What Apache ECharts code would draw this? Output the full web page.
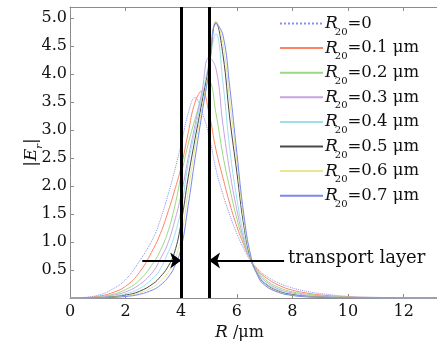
<!DOCTYPE html>
<html><head><meta charset="utf-8">
<script src="https://cdn.jsdelivr.net/npm/echarts@6/dist/echarts.min.js"></script>
<style>html,body{margin:0;padding:0;background:#fff}#c{width:437px;height:341px}</style>
</head><body><div id="c"></div>
<script>
// ---- data ----
const xs = [0, 0.5, 1, 1.5, 2, 2.5, 3, 3.25, 3.5, 3.75, 4, 4.25, 4.5, 4.75, 5, 5.25, 5.5, 5.75, 6, 6.25, 6.5, 6.75, 7, 7.5, 8, 8.5, 9, 10, 11, 12, 13.2];
const seriesNames = ['0', '0.1 μm', '0.2 μm', '0.3 μm', '0.4 μm', '0.5 μm', '0.6 μm', '0.7 μm'];
const r0  = [0, 0.01, 0.05, 0.15, 0.33, 0.66, 1.08, 1.4, 1.8, 2.25, 2.75, 3.3, 3.58, 3.32, 2.9, 2.3, 1.85, 1.48, 1.15, 0.88, 0.66, 0.52, 0.41, 0.27, 0.18, 0.12, 0.08, 0.03, 0.012, 0.005, 0];
const r01 = [0, 0.006, 0.03, 0.09, 0.21, 0.46, 0.88, 1.15, 1.5, 1.9, 2.35, 2.95, 3.5, 3.7, 3.3, 2.65, 2.15, 1.68, 1.28, 0.95, 0.68, 0.5, 0.38, 0.23, 0.14, 0.09, 0.055, 0.02, 0.008, 0.002, 0];
const r02 = [0, 0.004, 0.02, 0.06, 0.15, 0.32, 0.63, 0.85, 1.15, 1.6, 2.2, 2.75, 3.2, 3.6, 3.87, 3.3, 2.55, 1.95, 1.42, 1.0, 0.68, 0.48, 0.34, 0.19, 0.11, 0.07, 0.04, 0.015, 0.005, 0.001, 0];
const r03 = [0, 0.002, 0.013, 0.045, 0.11, 0.24, 0.48, 0.7, 0.95, 1.35, 1.85, 2.5, 3.1, 3.7, 4.3, 4.1, 3.1, 2.25, 1.58, 1.05, 0.68, 0.45, 0.31, 0.16, 0.09, 0.05, 0.03, 0.01, 0.003, 0, 0];
const r04 = [0, 0.001, 0.008, 0.03, 0.075, 0.17, 0.36, 0.52, 0.78, 1.1, 1.6, 2.4, 3.0, 3.6, 4.2, 4.72, 3.85, 2.65, 1.78, 1.12, 0.68, 0.43, 0.28, 0.14, 0.07, 0.04, 0.02, 0.008, 0.002, 0, 0];
const r05 = [0, 0.001, 0.005, 0.02, 0.05, 0.12, 0.26, 0.38, 0.54, 0.8, 1.35, 2.15, 2.85, 3.5, 4.15, 4.92, 4.35, 3.2, 2.25, 1.3, 0.7, 0.42, 0.26, 0.12, 0.06, 0.03, 0.015, 0.005, 0.001, 0, 0];
const r06 = [0, 0, 0.003, 0.013, 0.037, 0.09, 0.2, 0.3, 0.44, 0.65, 1.1, 1.9, 2.7, 3.4, 4.1, 4.95, 4.55, 3.5, 2.45, 1.4, 0.72, 0.41, 0.25, 0.11, 0.05, 0.025, 0.012, 0.004, 0.001, 0, 0];
const r07 = [0, 0, 0.002, 0.009, 0.027, 0.065, 0.15, 0.23, 0.35, 0.55, 0.9, 1.65, 2.5, 3.3, 4.05, 4.9, 4.7, 3.75, 2.6, 1.5, 0.76, 0.4, 0.23, 0.1, 0.045, 0.02, 0.01, 0.003, 0.001, 0, 0];
const allY = [r0, r01, r02, r03, r04, r05, r06, r07];
const layerLines = [4, 5];
const arrowY = 0.67;
const leftArrow = [2.6, 4];
const rightArrow = [7.7, 5];
const annotation = {text: 'transport layer', x: 7.7, y: 0.7};
const xTicks = [0, 2, 4, 6, 8, 10, 12];
const yTicks = [0.5, 1.0, 1.5, 2.0, 2.5, 3.0, 3.5, 4.0, 4.5, 5.0];

// ---- style ----
const colors = ['#8a90ea', '#ff8466', '#98d880', '#c8a2e4', '#9edfec', '#4a4a4a', '#ebe694', '#7888f0'];
const SERIF = 'DejaVu Serif';
const axisGray = '#8c8c8c';

const series = allY.map((ys, i) => ({
  name: seriesNames[i],
  type: 'line',
  data: xs.map((x, k) => [x, ys[k]]),
  symbol: 'none',
  smooth: 0.45,
  lineStyle: {width: 1, color: colors[i], type: i === 0 ? 'dotted' : 'solid'},
  itemStyle: {color: colors[i]},
  z: 2
}));

series.push({
  type: 'line', data: [], silent: true, z: 5,
  markLine: {
    silent: true, animation: false,
    symbol: ['none', 'none'],
    label: {show: false},
    lineStyle: {color: '#000', width: 3, type: 'solid'},
    data: layerLines.map(v => ({xAxis: v}))
  }
});
series.push({
  type: 'line', data: [], silent: true, z: 6,
  markLine: {
    silent: true, animation: false,
    symbol: ['none', 'arrow'], symbolSize: [12, 11],
    label: {show: false},
    lineStyle: {color: '#000', width: 2, type: 'solid'},
    data: [
      [{coord: [leftArrow[0], arrowY]}, {coord: [leftArrow[1], arrowY]}],
      [{coord: [rightArrow[0], arrowY]}, {coord: [rightArrow[1], arrowY]}]
    ]
  },
  markPoint: {
    silent: true, animation: false, symbol: 'circle', symbolSize: 0,
    label: {show: true, position: 'right', distance: 4, formatter: annotation.text,
      color: '#111', fontFamily: SERIF, fontSize: 18},
    data: [{coord: [annotation.x, annotation.y]}]
  }
});

const chart = echarts.init(document.getElementById('c'), null, {renderer: 'canvas'});
chart.setOption({
  animation: false,
  backgroundColor: '#fff',
  grid: {left: 70, right: 0, top: 7, bottom: 43, containLabel: false, outerBoundsMode: 'none'},
  legend: {
    orient: 'vertical', left: 274, top: 10,
    itemWidth: 43, itemHeight: 10, itemGap: 2.6,
    itemStyle: {opacity: 0},
    data: seriesNames,
    formatter: n => '{i|R}{s|20}{t|=' + n + '}',
    textStyle: {
      color: '#111', padding: [0, 0, 0, -3],
      rich: {
        i: {fontFamily: SERIF, fontStyle: 'italic', fontSize: 17, lineHeight: 19, verticalAlign: 'middle'},
        s: {fontFamily: SERIF, fontSize: 10, lineHeight: 19, verticalAlign: 'bottom', padding: [0, 0, -4, -3]},
        t: {fontFamily: SERIF, fontSize: 16.5, lineHeight: 19, verticalAlign: 'middle'}
      }
    }
  },
  xAxis: [{
    type: 'value', min: 0, max: 13.2, interval: 2, position: 'bottom',
    name: '{i|R} /μm', nameLocation: 'middle', nameGap: 26, nameMoveOverlap: false,
    nameTextStyle: {color: '#111', fontFamily: SERIF, fontSize: 16, padding: [0, 28, 0, 0],
      rich: {i: {fontFamily: SERIF, fontStyle: 'italic', fontSize: 17}}},
    axisLine: {show: true, lineStyle: {color: axisGray, width: 1}},
    axisTick: {show: true, inside: true, length: 4, lineStyle: {color: axisGray}},
    splitLine: {show: false},
    axisLabel: {color: '#111', fontFamily: SERIF, fontSize: 16, margin: 6,
      formatter: v => xTicks.indexOf(v) >= 0 ? String(v) : ''}
  }, {
    type: 'value', min: 0, max: 13.2, interval: 2, position: 'top',
    axisLine: {show: true, lineStyle: {color: axisGray, width: 1}},
    axisTick: {show: true, inside: true, length: 4, lineStyle: {color: axisGray}},
    axisLabel: {show: false}, splitLine: {show: false}
  }],
  yAxis: [{
    type: 'value', min: 0, max: 5.2, interval: 0.5,
    name: '|{i|E}{s|r}|', nameLocation: 'middle', nameGap: 30, nameRotate: 90, nameMoveOverlap: false,
    nameTextStyle: {color: '#111', fontFamily: SERIF, fontSize: 17,
      rich: {
        i: {fontFamily: SERIF, fontStyle: 'italic', fontSize: 17},
        s: {fontFamily: SERIF, fontStyle: 'italic', fontSize: 10, verticalAlign: 'bottom', padding: [0, 0, -4, 0]}
      }},
    axisLine: {show: true, lineStyle: {color: axisGray, width: 1}},
    axisTick: {show: true, inside: true, length: 4, lineStyle: {color: axisGray}},
    splitLine: {show: false},
    axisLabel: {color: '#111', fontFamily: SERIF, fontSize: 16, margin: 3,
      formatter: v => yTicks.some(t => Math.abs(t - v) < 1e-6) ? v.toFixed(1) : ''}
  }],
  series: series
});
</script>
</body></html>
